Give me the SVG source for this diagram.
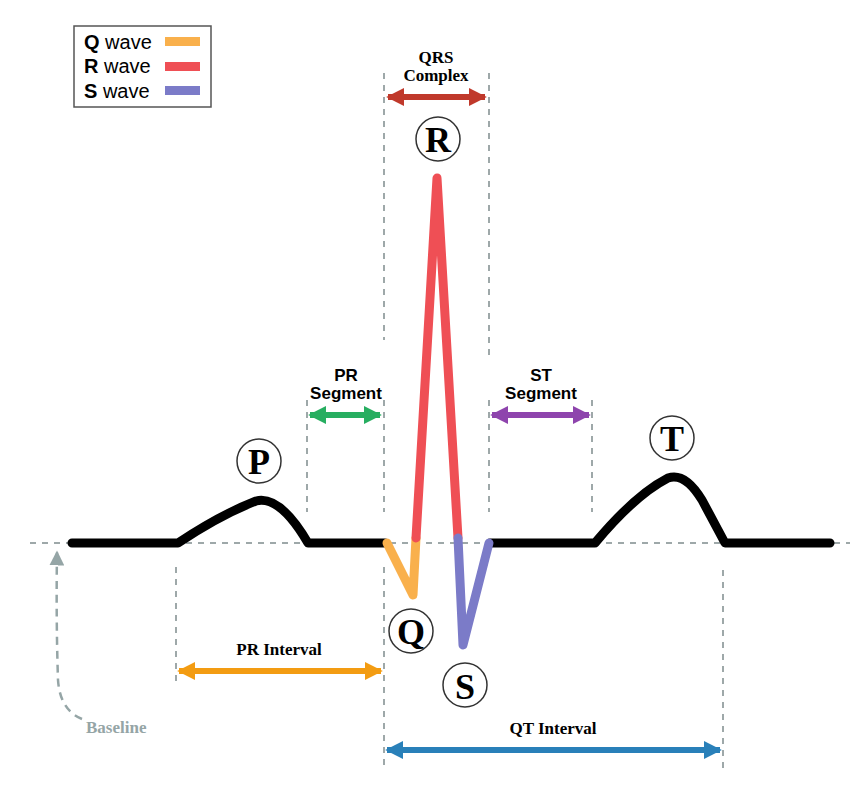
<svg xmlns="http://www.w3.org/2000/svg" width="858" height="794" viewBox="0 0 858 794">
<style>
.w{fill:none;stroke-width:9;stroke-linecap:round;stroke-linejoin:round}
.g{stroke:#7f8c8d;stroke-width:1.5;stroke-dasharray:6,6;fill:none}
.c{fill:#fff;stroke:#333;stroke-width:1.5}
.cl{font-family:"Liberation Serif",serif;font-weight:bold;font-size:36px;text-anchor:middle}
.lb{font-family:"Liberation Serif",serif;font-weight:bold;font-size:17px;text-anchor:middle}
.ls{font-family:"Liberation Sans",sans-serif;font-weight:bold;font-size:17px;text-anchor:middle}
.lg{font-family:"Liberation Sans",sans-serif;font-size:20px}
</style>
<defs>
<marker id="ah" viewBox="0 0 10 10" refX="9" refY="5" markerWidth="3" markerHeight="3" orient="auto-start-reverse"><path d="M0,0L10,5L0,10z" fill="context-stroke"/></marker>
<marker id="ag" viewBox="0 0 10 10" refX="9" refY="5" markerWidth="6" markerHeight="6" orient="auto"><path d="M0,0L10,5L0,10z" fill="#95a5a6"/></marker>
</defs>
<g id="guides">
<line class="g" x1="30" y1="543" x2="850" y2="543"/>
<line class="g" x1="384" y1="73" x2="384" y2="340"/>
<line class="g" x1="489" y1="73" x2="489" y2="360"/>
<line class="g" x1="307" y1="400" x2="307" y2="512"/>
<line class="g" x1="384" y1="400" x2="384" y2="512"/>
<line class="g" x1="489" y1="400" x2="489" y2="512"/>
<line class="g" x1="592" y1="400" x2="592" y2="512"/>
<line class="g" x1="176" y1="567" x2="176" y2="684"/>
<line class="g" x1="384" y1="567" x2="384" y2="770"/>
<line class="g" x1="723" y1="570" x2="723" y2="770"/>
</g>
<g id="wave">
<path class="w" stroke="#000" d="M72,543H178Q220,515 256,501Q280,495 308,543H385"/>
<path class="w" stroke="#000" d="M490,543H595Q635,495 668,478Q685,472 702,500L725,543H830"/>
<path class="w" stroke="#f9b04c" d="M387,543L413,595L416,538"/>
<path class="w" stroke="#ef4f55" d="M416,538L437,178L458,538"/>
<path class="w" stroke="#7b7bc8" d="M458,538L463,645L489,543"/>
</g>
<g id="connectors">
<line x1="388" y1="97" x2="485" y2="97" stroke="#c0392b" stroke-width="6" marker-start="url(#ah)" marker-end="url(#ah)"/>
<line x1="310" y1="415" x2="380" y2="415" stroke="#27ae60" stroke-width="6" marker-start="url(#ah)" marker-end="url(#ah)"/>
<line x1="492" y1="415" x2="589" y2="415" stroke="#8e44ad" stroke-width="6" marker-start="url(#ah)" marker-end="url(#ah)"/>
<line x1="179" y1="671" x2="381" y2="671" stroke="#f39c12" stroke-width="6" marker-start="url(#ah)" marker-end="url(#ah)"/>
<line x1="387" y1="750" x2="720" y2="750" stroke="#2980b9" stroke-width="6" marker-start="url(#ah)" marker-end="url(#ah)"/>
<path d="M82,719Q60,710 58,680Q56,620 57,552" fill="none" stroke="#95a5a6" stroke-width="2.5" stroke-dasharray="8,6" marker-end="url(#ag)"/>
</g>
<g id="legend">
<rect x="74" y="26" width="137" height="81" fill="#fff" stroke="#555" stroke-width="1.5"/>
<text class="lg" x="84" y="49"><tspan font-weight="bold">Q</tspan> wave</text>
<text class="lg" x="84" y="73"><tspan font-weight="bold">R</tspan> wave</text>
<text class="lg" x="84" y="98"><tspan font-weight="bold">S</tspan> wave</text>
<rect x="165" y="37" width="35" height="9" fill="#f9b04c"/>
<rect x="165" y="62" width="35" height="9" fill="#ef4f55"/>
<rect x="165" y="86" width="35" height="9" fill="#7b7bc8"/>
</g>
<g id="nodeR"><circle class="c" cx="438" cy="139" r="22"/><text class="cl" x="438" y="152">R</text></g>
<g id="nodeP"><circle class="c" cx="259" cy="461" r="22"/><text class="cl" x="259" y="474">P</text></g>
<g id="nodeT"><circle class="c" cx="672" cy="438" r="22"/><text class="cl" x="672" y="451">T</text></g>
<g id="nodeQ"><circle class="c" cx="411" cy="631" r="22"/><text class="cl" x="411" y="644">Q</text></g>
<g id="nodeS"><circle class="c" cx="465" cy="685" r="22"/><text class="cl" x="465" y="699">S</text></g>
<g id="labels">
<text class="lb" x="436" y="63">QRS</text>
<text class="lb" x="436" y="81">Complex</text>
<text class="ls" x="346" y="381">PR</text>
<text class="ls" x="346" y="399">Segment</text>
<text class="ls" x="541" y="381">ST</text>
<text class="ls" x="541" y="399">Segment</text>
<text class="lb" x="279" y="655">PR Interval</text>
<text class="lb" x="553" y="734">QT Interval</text>
<text x="86" y="733" font-family="Liberation Serif,serif" font-weight="bold" font-size="17" fill="#95a5a6">Baseline</text>
</g>
</svg>
